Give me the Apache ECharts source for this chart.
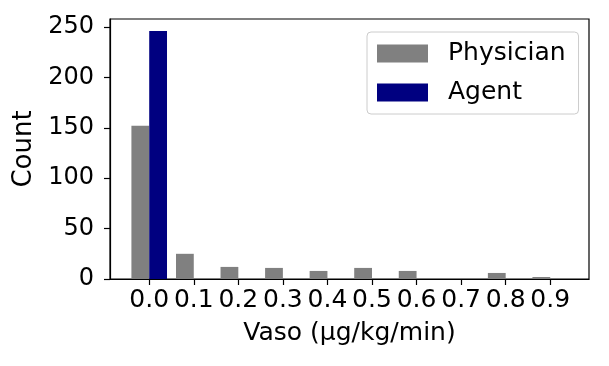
<!DOCTYPE html>
<html>
<head>
<meta charset="utf-8">
<script src="https://cdn.jsdelivr.net/npm/echarts@6/dist/echarts.min.js"></script>
<style>
html,body{margin:0;padding:0;background:#fff;}
#chart{width:609px;height:366px;}
</style>
</head>
<body>
<div id="chart"></div>
<script>
const categories = [0.0, 0.1, 0.2, 0.3, 0.4, 0.5, 0.6, 0.7, 0.8, 0.9];
const physician = [152, 25, 12, 11, 8, 11, 8, 1, 6, 2];
const agent = [246, 0, 0, 0, 0, 0, 0, 0, 0, 0];
const yTicks = [0, 50, 100, 150, 200, 250];
const seriesNames = ['Physician', 'Agent'];

const font = 'DejaVu Sans';
const chart = echarts.init(document.getElementById('chart'), null, {renderer: 'canvas'});
chart.setOption({
  animation: false,
  backgroundColor: '#ffffff',
  textStyle: {fontFamily: font},
  grid: {left: 110, top: 19, width: 479, height: 260, show: true, borderColor: '#000', borderWidth: 1.2, containLabel: false},
  legend: {
    data: seriesNames,
    orient: 'vertical',
    left: 367, top: 32,
    icon: 'rect',
    itemWidth: 51, itemHeight: 18,
    itemGap: 12,
    padding: [8, 13, 8, 10],
    borderColor: '#cccccc', borderWidth: 1, borderRadius: 4,
    backgroundColor: 'rgba(255,255,255,0.8)',
    selectedMode: false,
    textStyle: {fontFamily: font, fontSize: 25, color: '#000', lineHeight: 27, padding: [0, 0, 0, 15]}
  },
  xAxis: {
    type: 'value',
    min: -0.088, max: 0.987,
    name: 'Vaso (µg/kg/min)',
    nameLocation: 'middle',
    nameGap: 42,
    nameTextStyle: {fontFamily: font, fontSize: 25, color: '#000'},
    splitLine: {show: false},
    axisLine: {show: true, onZero: false, lineStyle: {color: '#000', width: 1.2}},
    axisTick: {show: true, inside: false, length: 6, lineStyle: {color: '#000', width: 1.2}, customValues: categories},
    axisLabel: {fontFamily: font, fontSize: 25, color: '#000', margin: 9, customValues: categories, formatter: v => Number(v).toFixed(1)}
  },
  yAxis: {
    type: 'value',
    min: 0, max: 258,
    name: 'Count',
    nameLocation: 'middle',
    nameGap: 65,
    nameRotate: 90,
    nameTextStyle: {fontFamily: font, fontSize: 26, color: '#000'},
    splitLine: {show: false},
    axisLine: {show: true, onZero: false, lineStyle: {color: '#000', width: 1.2}},
    axisTick: {show: true, inside: false, length: 6, lineStyle: {color: '#000', width: 1.2}, customValues: yTicks},
    axisLabel: {fontFamily: font, fontSize: 24, color: '#000', margin: 16, customValues: yTicks}
  },
  series: [
    {
      name: seriesNames[0], type: 'bar',
      barWidth: 17.8, barGap: '0%',
      itemStyle: {color: '#808080'},
      data: categories.map((c, i) => [c, physician[i]])
    },
    {
      name: seriesNames[1], type: 'bar',
      barWidth: 17.8, barGap: '0%',
      itemStyle: {color: '#000080'},
      data: categories.map((c, i) => [c, agent[i]])
    }
  ]
});
</script>
</body>
</html>
